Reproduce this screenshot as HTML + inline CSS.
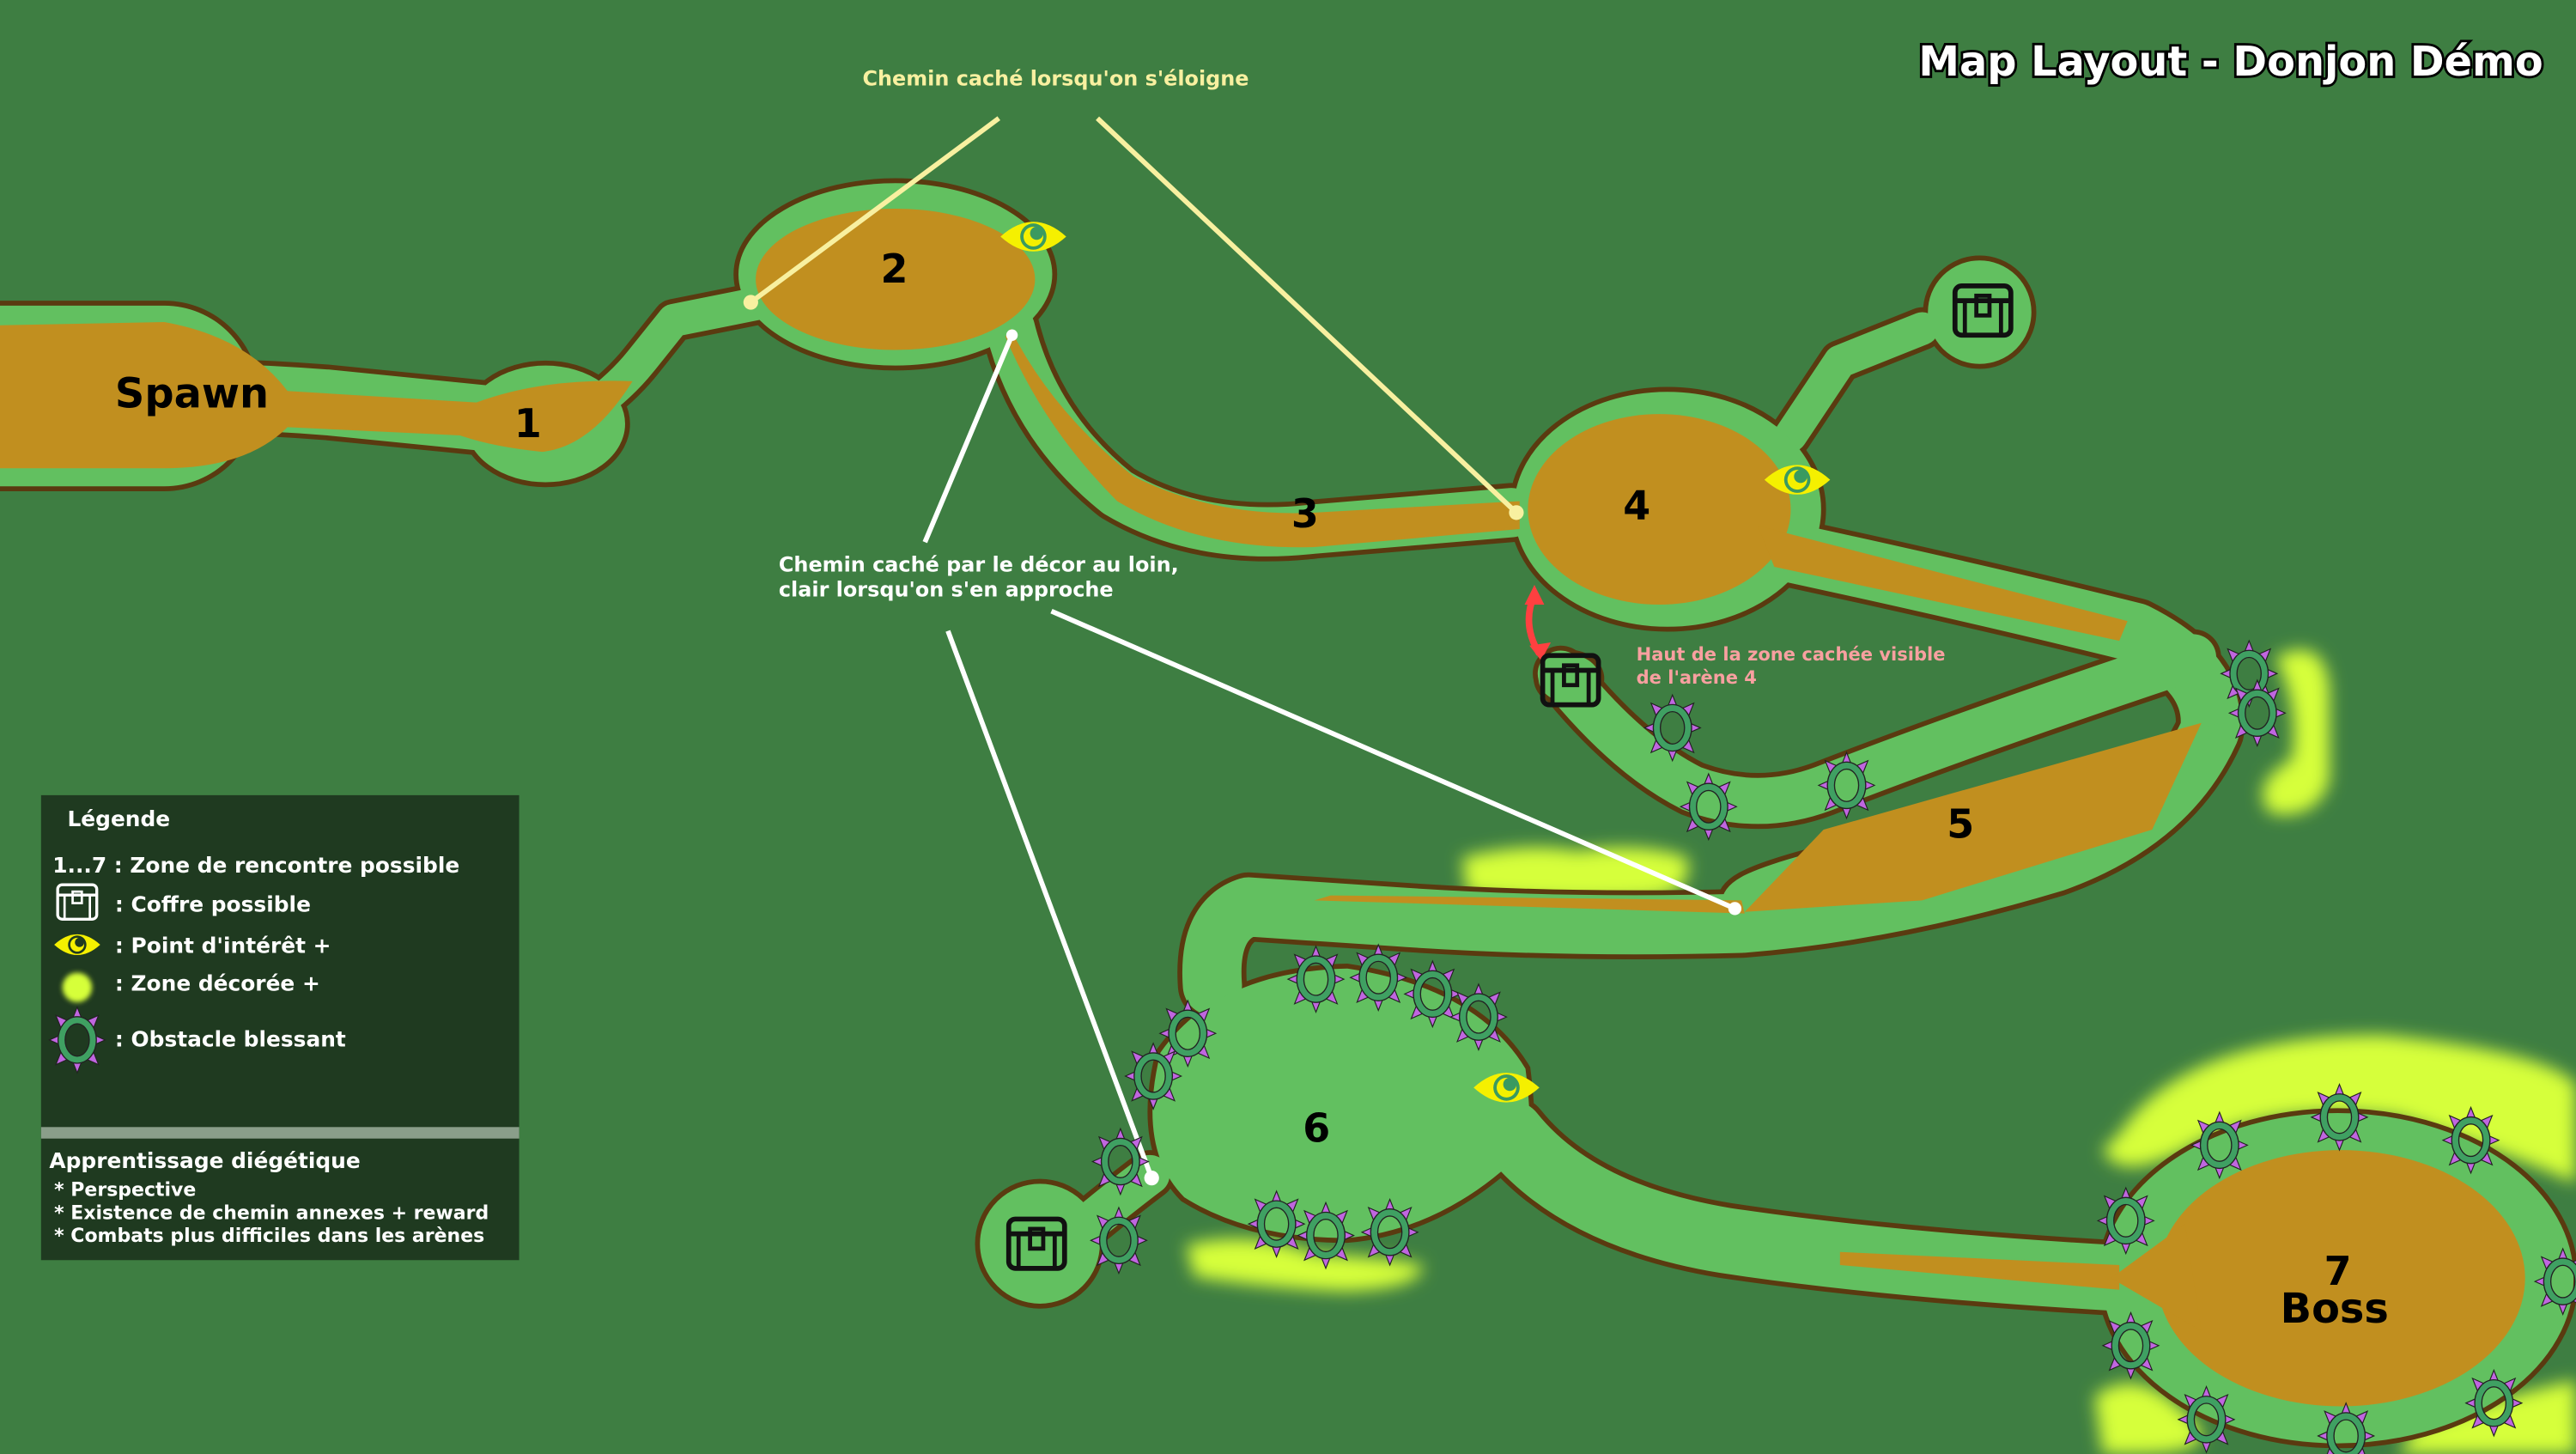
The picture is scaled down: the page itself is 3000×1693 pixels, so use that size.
<!DOCTYPE html>
<html><head><meta charset="utf-8"><style>
html,body{margin:0;padding:0;background:#3e7e42;}
svg{display:block}
text{font-family:"DejaVu Sans","Liberation Sans",sans-serif;font-weight:bold}
</style></head><body>
<svg width="3000" height="1693" viewBox="0 0 1568 885" preserveAspectRatio="none" xmlns="http://www.w3.org/2000/svg">
<defs>
<filter id="bl" x="-30%" y="-30%" width="160%" height="160%"><feGaussianBlur stdDeviation="5"/></filter>
<g id="ob">
 <g fill="#c066e0" stroke="#222" stroke-width="0.6">
  <polygon points="0,-20 -4,-10 4,-10"/><polygon points="0,20 -4,10 4,10"/>
  <polygon points="-17,0 -8,-4 -8,4"/><polygon points="17,0 8,-4 8,4"/>
  <polygon points="-13,-15 -9,-5 -4,-11"/><polygon points="13,-15 9,-5 4,-11"/>
  <polygon points="-13,15 -9,5 -4,11"/><polygon points="13,15 9,5 4,11"/>
 </g>
 <ellipse rx="9.5" ry="12" fill="none" stroke="#222" stroke-width="5"/>
 <ellipse rx="9.5" ry="12" fill="none" stroke="#3fa062" stroke-width="3.6"/>
</g>
<g id="chest">
 <rect x="-17" y="-15" width="34" height="30" rx="4" fill="none" stroke="#111" stroke-width="3"/>
 <line x1="-17" y1="-6" x2="17" y2="-6" stroke="#111" stroke-width="3"/>
 <line x1="-11" y1="-6" x2="-11" y2="15" stroke="#111" stroke-width="2.5"/>
 <line x1="11" y1="-6" x2="11" y2="15" stroke="#111" stroke-width="2.5"/>
 <rect x="-4" y="-9" width="8" height="12" fill="none" stroke="#111" stroke-width="2.5"/>
</g>
<g id="eye">
 <path d="M-20,0 Q0,-18 20,0 Q0,18 -20,0Z" fill="#f5f000"/>
 <circle r="8" fill="#3a9a60"/><circle r="6" fill="#f5f000"/>
 <circle cx="2" cy="-2" r="4" fill="#3a9a60"/>
</g>
</defs>
<rect width="1568" height="885" fill="#3e7e42"/>

<!-- decor glows -->
<g fill="#d6ff3a" filter="url(#bl)">
 <path d="M1290,690 Q1330,630 1450,630 Q1550,640 1568,660 L1568,720 Q1520,700 1460,680 Q1380,670 1330,700 Q1290,720 1280,700Z"/>
 <path d="M1275,850 Q1300,830 1330,860 Q1360,885 1300,885 L1280,885Z"/>
 <path d="M1470,870 Q1520,850 1568,840 L1568,885 L1460,885Z"/>
 <path d="M1385,400 Q1415,385 1418,420 L1418,475 Q1410,500 1382,495 Q1368,478 1395,462 Q1400,430 1385,400Z"/>
 <path d="M890,522 Q930,512 960,518 Q1000,512 1027,522 Q1032,545 1000,547 Q940,550 893,544Z"/>
 <path d="M722,758 Q760,748 800,763 Q850,766 866,770 Q866,784 820,786 Q770,784 727,777Z"/>
</g>

<!-- outlines -->
<g fill="none" stroke="#5a3a10" stroke-linecap="round" stroke-linejoin="round">
 <path d="M100,241 Q150,241 200,245 L300,255" stroke-width="46"/>
 <path d="M0,241 L100,241" stroke-width="116"/>
 <path d="M360,248 Q378,235 390,220 L410,195 L460,185" stroke-width="26"/>
 <path d="M615,200 Q630,260 680,300 Q730,330 800,322 L920,312" stroke-width="36"/>
 <path d="M1090,265 L1120,220 L1170,200" stroke-width="26"/>
 <path d="M1060,330 Q1200,360 1300,385 Q1350,410 1345,445 Q1320,500 1250,525 Q1150,555 1060,562 Q950,565 850,558 L760,552 Q735,560 738,600" stroke-width="42"/>
 <path d="M950,410 Q990,460 1030,480 Q1070,495 1110,480 Q1200,445 1335,400" stroke-width="34"/>
 <path d="M1150,520 Q1060,540 1060,550" stroke-width="30"/>
 <path d="M920,690 Q960,740 1050,755 Q1150,770 1290,778" stroke-width="46"/>
 <path d="M650,755 Q680,730 700,715" stroke-width="30"/>
</g>
<g fill="#62c060" stroke="#5a3a10" stroke-width="3">
 <ellipse cx="545" cy="167" rx="97" ry="57"/>
 <ellipse cx="332" cy="258" rx="50" ry="37"/>
 <ellipse cx="1015" cy="310" rx="95" ry="73"/>
 <circle cx="1205" cy="190" r="33"/>
 <circle cx="633" cy="757" r="38"/>
 <path d="M705,640 Q740,590 820,588 Q900,600 930,650 Q935,690 930,700 Q880,750 820,755 Q760,755 720,730 Q690,700 705,640Z"/>
 <ellipse cx="1423" cy="778" rx="145" ry="102"/>
 <ellipse cx="955" cy="413" rx="20" ry="16"/>
</g>
<!-- light green corridors -->
<g fill="none" stroke="#62c060" stroke-linecap="round" stroke-linejoin="round">
 <path d="M100,241 Q150,241 200,245 L300,255" stroke-width="40"/>
 <path d="M-5,241 L100,241" stroke-width="110"/>
 <path d="M360,248 Q378,235 390,220 L410,195 L460,185" stroke-width="20"/>
 <path d="M615,200 Q630,260 680,300 Q730,330 800,322 L920,312" stroke-width="30"/>
 <path d="M1090,265 L1120,220 L1170,200" stroke-width="20"/>
 <path d="M1060,330 Q1200,360 1300,385 Q1350,410 1345,445 Q1320,500 1250,525 Q1150,555 1060,562 Q950,565 850,558 L760,552 Q735,560 738,600" stroke-width="36"/>
 <path d="M950,410 Q990,460 1030,480 Q1070,495 1110,480 Q1200,445 1335,400" stroke-width="28"/>
 <path d="M1150,520 Q1060,540 1060,550" stroke-width="24"/>
 <path d="M920,690 Q960,740 1050,755 Q1150,770 1290,778" stroke-width="40"/>
 <path d="M650,755 Q680,730 700,715" stroke-width="24"/>
</g>
<g fill="#62c060">
 <ellipse cx="545" cy="167" rx="95" ry="55"/>
 <ellipse cx="332" cy="258" rx="48" ry="35"/>
 <ellipse cx="1015" cy="310" rx="93" ry="71"/>
 <circle cx="1205" cy="190" r="31"/>
 <circle cx="633" cy="757" r="36"/>
 <path d="M707,640 Q740,592 820,590 Q898,602 928,650 Q933,690 928,700 Q880,748 820,753 Q760,753 722,728 Q692,700 707,640Z"/>
 <ellipse cx="1423" cy="778" rx="143" ry="100"/>
 <ellipse cx="955" cy="413" rx="18" ry="14"/>
 <path d="M1080,540 L1350,440 L1320,490 L1250,530 L1100,565Z"/>
</g>
<!-- brown -->
<g fill="#c18f1f">
 <path d="M0,198 L100,196 Q150,205 175,238 L290,245 Q330,230 385,232 Q360,272 330,275 Q300,272 280,265 L175,260 Q150,285 100,285 L0,285Z"/>
 <ellipse cx="545" cy="170" rx="85" ry="43"/>
 <path d="M615,200 Q640,250 690,290 Q740,315 800,312 L925,305 L925,322 L800,333 Q730,335 680,305 Q635,260 612,205Z"/>
 <ellipse cx="1010" cy="310" rx="80" ry="58"/>
 <path d="M1070,320 L1295,378 L1290,390 L1080,345Z"/>
 <path d="M810,545 L1060,548 L1062,556 L800,548Z"/>
 <path d="M1110,505 L1340,440 L1310,505 L1170,548 L1062,555 Z"/>
 <path d="M1120,762 L1290,770 L1290,785 L1120,770Z"/>
 <ellipse cx="1425" cy="778" rx="112" ry="78"/>
 <path d="M1285,778 L1330,745 L1340,810Z"/>
</g>

<!-- callout lines -->
<g stroke-width="3" fill="none">
 <line x1="457" y1="184" x2="608" y2="72" stroke="#f8f0a0"/>
 <line x1="923" y1="312" x2="668" y2="72" stroke="#f8f0a0"/>
 <line x1="616" y1="204" x2="563" y2="330" stroke="#fff"/>
 <line x1="1056" y1="553" x2="640" y2="372" stroke="#fff"/>
 <line x1="701" y1="717" x2="577" y2="384" stroke="#fff"/>
</g>
<circle cx="457" cy="184" r="4.5" fill="#f8f0a0"/>
<circle cx="923" cy="312" r="4.5" fill="#f8f0a0"/>
<circle cx="616" cy="204" r="3.5" fill="#fff"/>
<circle cx="1056" cy="553" r="4" fill="#fff"/>
<circle cx="701" cy="717" r="4.5" fill="#fff"/>

<!-- red arrow -->
<path d="M934,362 Q926,380 937,398" stroke="#ff4040" stroke-width="4" fill="none"/>
<path d="M928,368 L934,356 L940,368Z M931,393 L938,402 L944,391Z" fill="#ff4040"/>

<!-- icons -->
<use href="#eye" x="629" y="144"/>
<use href="#eye" x="1094" y="292"/>
<use href="#eye" x="917" y="662"/>
<use href="#chest" x="1207" y="189"/>
<use href="#chest" x="956" y="414"/>
<use href="#chest" x="631" y="757"/>

<g>
 <use href="#ob" x="1018" y="443"/><use href="#ob" x="1040" y="491"/><use href="#ob" x="1124" y="478"/>
 <use href="#ob" x="1369" y="410"/><use href="#ob" x="1374" y="434"/>
 <use href="#ob" x="801" y="596"/><use href="#ob" x="839" y="595"/><use href="#ob" x="872" y="605"/><use href="#ob" x="900" y="619"/>
 <use href="#ob" x="723" y="629"/><use href="#ob" x="702" y="655"/><use href="#ob" x="682" y="707"/><use href="#ob" x="681" y="755"/>
 <use href="#ob" x="777" y="745"/><use href="#ob" x="807" y="752"/><use href="#ob" x="846" y="750"/>
 <use href="#ob" x="1351" y="697"/><use href="#ob" x="1424" y="680"/><use href="#ob" x="1504" y="694"/>
 <use href="#ob" x="1294" y="743"/><use href="#ob" x="1297" y="819"/><use href="#ob" x="1343" y="864"/>
 <use href="#ob" x="1428" y="874"/><use href="#ob" x="1518" y="854"/><use href="#ob" x="1560" y="780"/>
</g>

<!-- labels -->
<g fill="#000" font-size="24">
 <text x="70" y="248" font-size="25">Spawn</text>
 <text x="313" y="266">1</text>
 <text x="536" y="172">2</text>
 <text x="786" y="321">3</text>
 <text x="988" y="316">4</text>
 <text x="1185" y="510">5</text>
 <text x="793" y="695">6</text>
 <text x="1423" y="782" text-anchor="middle">7</text>
 <text x="1421" y="805" text-anchor="middle" font-size="25">Boss</text>
</g>
<text x="1548" y="46" text-anchor="end" font-size="25" fill="#fff" stroke="#000" stroke-width="3" paint-order="stroke">Map Layout - Donjon Démo</text>
<text x="525" y="52" font-size="12.5" fill="#f8f0a0">Chemin caché lorsqu'on s'éloigne</text>
<text x="474" y="348" font-size="12.5" fill="#fff">Chemin caché par le décor au loin,</text>
<text x="474" y="363" font-size="12.5" fill="#fff">clair lorsqu'on s'en approche</text>
<text x="996" y="402" font-size="11" fill="#f8a0a0">Haut de la zone cachée visible</text>
<text x="996" y="416" font-size="11" fill="#f8a0a0">de l'arène 4</text>

<!-- legend -->
<rect x="25" y="484" width="291" height="283" fill="#1f3a20"/>
<rect x="25" y="686" width="291" height="7" fill="#8a9e8a"/>
<g fill="#fff" font-size="13">
 <text x="41" y="503">Légende</text>
 <text x="32" y="531">1...7 : Zone de rencontre possible</text>
 <text x="70" y="555">: Coffre possible</text>
 <text x="70" y="580">: Point d'intérêt +</text>
 <text x="70" y="603">: Zone décorée +</text>
 <text x="70" y="637">: Obstacle blessant</text>
 <text x="30" y="711">Apprentissage diégétique</text>
 <g font-size="11.5"><text x="33" y="728">* Perspective</text>
 <text x="33" y="742">* Existence de chemin annexes + reward</text>
 <text x="33" y="756">* Combats plus difficiles dans les arènes</text></g>
</g>
<g transform="translate(47,549) scale(0.7)">
 <rect x="-17" y="-15" width="34" height="30" rx="4" fill="none" stroke="#fff" stroke-width="2.5"/>
 <line x1="-17" y1="-6" x2="17" y2="-6" stroke="#fff" stroke-width="2.5"/>
 <line x1="-11" y1="-6" x2="-11" y2="15" stroke="#fff" stroke-width="2"/>
 <line x1="11" y1="-6" x2="11" y2="15" stroke="#fff" stroke-width="2"/>
 <rect x="-4" y="-9" width="8" height="10" fill="none" stroke="#fff" stroke-width="2"/>
</g>
<g transform="translate(47,575) scale(0.7)">
 <path d="M-20,0 Q0,-18 20,0 Q0,18 -20,0Z" fill="#f5f000"/>
 <circle r="8" fill="#1f3a20"/><circle r="6" fill="#f5f000"/><circle cx="2" cy="-2" r="4" fill="#1f3a20"/>
</g>
<circle cx="47" cy="601" r="9" fill="#d6ff3a" style="filter:blur(1.5px)"/>
<use href="#ob" x="47" y="633"/>
</svg>
</body></html>
